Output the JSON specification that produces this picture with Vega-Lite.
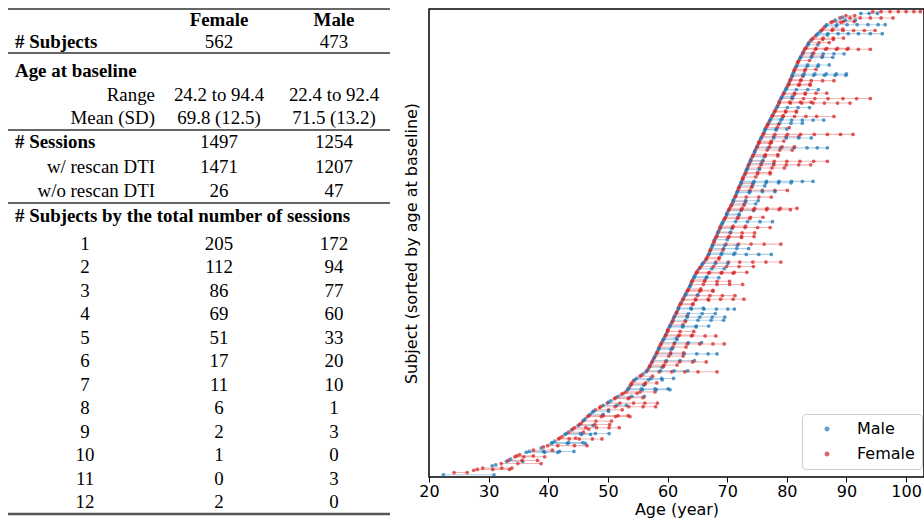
{
"$schema": "https://vega.github.io/schema/vega-lite/v6.json",
"padding": {"left": 0, "top": 8, "right": 0, "bottom": 0},
"autosize": {"type": "pad"},
"background": "white",
"spacing": 29,
"bounds": "flush",
"config": {"view": {"stroke": null}, "font": "DejaVu Sans"},
"datasets": {
"table": [
{"r":0,"c":4,"t":"Female"},{"r":0,"c":5,"t":"Male"},
{"r":1,"c":1,"t":"# Subjects"},{"r":1,"c":4,"t":"562"},{"r":1,"c":5,"t":"473"},
{"r":2,"c":1,"t":"Age at baseline"},
{"r":3,"c":3,"t":"Range"},{"r":3,"c":4,"t":"24.2 to 94.4"},{"r":3,"c":5,"t":"22.4 to 92.4"},
{"r":4,"c":3,"t":"Mean (SD)"},{"r":4,"c":4,"t":"69.8 (12.5)"},{"r":4,"c":5,"t":"71.5 (13.2)"},
{"r":5,"c":1,"t":"# Sessions"},{"r":5,"c":4,"t":"1497"},{"r":5,"c":5,"t":"1254"},
{"r":6,"c":3,"t":"w/ rescan DTI"},{"r":6,"c":4,"t":"1471"},{"r":6,"c":5,"t":"1207"},
{"r":7,"c":3,"t":"w/o rescan DTI"},{"r":7,"c":4,"t":"26"},{"r":7,"c":5,"t":"47"},
{"r":8,"c":1,"t":"# Subjects by the total number of sessions"},
{"r":9,"c":2,"t":"1"},{"r":9,"c":4,"t":"205"},{"r":9,"c":5,"t":"172"},
{"r":10,"c":2,"t":"2"},{"r":10,"c":4,"t":"112"},{"r":10,"c":5,"t":"94"},
{"r":11,"c":2,"t":"3"},{"r":11,"c":4,"t":"86"},{"r":11,"c":5,"t":"77"},
{"r":12,"c":2,"t":"4"},{"r":12,"c":4,"t":"69"},{"r":12,"c":5,"t":"60"},
{"r":13,"c":2,"t":"5"},{"r":13,"c":4,"t":"51"},{"r":13,"c":5,"t":"33"},
{"r":14,"c":2,"t":"6"},{"r":14,"c":4,"t":"17"},{"r":14,"c":5,"t":"20"},
{"r":15,"c":2,"t":"7"},{"r":15,"c":4,"t":"11"},{"r":15,"c":5,"t":"10"},
{"r":16,"c":2,"t":"8"},{"r":16,"c":4,"t":"6"},{"r":16,"c":5,"t":"1"},
{"r":17,"c":2,"t":"9"},{"r":17,"c":4,"t":"2"},{"r":17,"c":5,"t":"3"},
{"r":18,"c":2,"t":"10"},{"r":18,"c":4,"t":"1"},{"r":18,"c":5,"t":"0"},
{"r":19,"c":2,"t":"11"},{"r":19,"c":4,"t":"0"},{"r":19,"c":5,"t":"3"},
{"r":20,"c":2,"t":"12"},{"r":20,"c":4,"t":"2"},{"r":20,"c":5,"t":"0"}
],
"rules": [{"r":-0.5},{"r":1.5},{"r":4.5},{"r":7.5}],
"bottomrule": [{"r":20.5}],
"sessions": [
{"i":0,"sex":"Male","age":22.4},{"i":0,"sex":"Male","age":30.9},
{"i":5,"sex":"Female","age":24.2},{"i":5,"sex":"Female","age":26.4},
{"i":10,"sex":"Female","age":27.5},
{"i":15,"sex":"Female","age":29.0},{"i":15,"sex":"Female","age":32.2},{"i":15,"sex":"Female","age":33.9},
{"i":20,"sex":"Male","age":30.6},
{"i":25,"sex":"Female","age":32.1},{"i":25,"sex":"Female","age":34.9},{"i":25,"sex":"Female","age":38.8},
{"i":30,"sex":"Male","age":33.0},{"i":30,"sex":"Male","age":35.7},
{"i":35,"sex":"Male","age":33.7},
{"i":40,"sex":"Female","age":34.4},{"i":40,"sex":"Female","age":35.9},{"i":40,"sex":"Female","age":39.4},
{"i":45,"sex":"Female","age":35.2},
{"i":50,"sex":"Male","age":36.3},{"i":50,"sex":"Male","age":39.4},{"i":50,"sex":"Male","age":41.6},
{"i":55,"sex":"Female","age":37.5},{"i":55,"sex":"Female","age":40.7},
{"i":60,"sex":"Male","age":38.8},
{"i":65,"sex":"Female","age":39.9},{"i":65,"sex":"Female","age":41.6},{"i":65,"sex":"Female","age":44.4},{"i":65,"sex":"Female","age":46.5},
{"i":70,"sex":"Male","age":40.5},{"i":70,"sex":"Male","age":43.2},{"i":70,"sex":"Male","age":46.2},
{"i":75,"sex":"Male","age":41.1},
{"i":80,"sex":"Female","age":41.7},{"i":80,"sex":"Female","age":43.5},{"i":80,"sex":"Female","age":45.2},{"i":80,"sex":"Female","age":47.4},{"i":80,"sex":"Female","age":49.0},
{"i":85,"sex":"Female","age":42.3},
{"i":90,"sex":"Male","age":42.8},{"i":90,"sex":"Male","age":45.6},{"i":90,"sex":"Male","age":47.1},
{"i":95,"sex":"Female","age":43.4},{"i":95,"sex":"Female","age":45.9},
{"i":100,"sex":"Male","age":43.9},
{"i":105,"sex":"Female","age":44.4},{"i":105,"sex":"Female","age":46.3},{"i":105,"sex":"Female","age":48.1},{"i":105,"sex":"Female","age":50.2},{"i":105,"sex":"Female","age":51.9},
{"i":110,"sex":"Male","age":45.0},{"i":110,"sex":"Male","age":47.5},
{"i":115,"sex":"Female","age":45.5},
{"i":120,"sex":"Female","age":45.8},{"i":120,"sex":"Female","age":48.0},{"i":120,"sex":"Female","age":50.6},
{"i":125,"sex":"Male","age":46.2},
{"i":130,"sex":"Female","age":46.6},{"i":130,"sex":"Female","age":48.9},{"i":130,"sex":"Female","age":51.3},{"i":130,"sex":"Female","age":53.7},
{"i":135,"sex":"Male","age":47.0},{"i":135,"sex":"Male","age":49.2},
{"i":140,"sex":"Male","age":47.4},
{"i":145,"sex":"Female","age":47.9},{"i":145,"sex":"Female","age":50.1},{"i":145,"sex":"Female","age":52.4},
{"i":150,"sex":"Female","age":48.6},
{"i":155,"sex":"Male","age":49.2},{"i":155,"sex":"Male","age":51.5},{"i":155,"sex":"Male","age":53.1},
{"i":160,"sex":"Female","age":49.9},{"i":160,"sex":"Female","age":52.0},{"i":160,"sex":"Female","age":54.3},{"i":160,"sex":"Female","age":56.2},{"i":160,"sex":"Female","age":58.3},
{"i":165,"sex":"Male","age":50.5},
{"i":170,"sex":"Female","age":51.1},{"i":170,"sex":"Female","age":53.4},
{"i":175,"sex":"Male","age":51.7},{"i":175,"sex":"Male","age":54.0},{"i":175,"sex":"Male","age":56.1},
{"i":180,"sex":"Female","age":52.3},
{"i":185,"sex":"Female","age":53.0},{"i":185,"sex":"Female","age":55.4},{"i":185,"sex":"Female","age":57.9},
{"i":190,"sex":"Male","age":53.3},{"i":190,"sex":"Male","age":55.8},{"i":190,"sex":"Male","age":58.1},{"i":190,"sex":"Male","age":60.4},
{"i":195,"sex":"Female","age":53.6},
{"i":200,"sex":"Male","age":53.8},{"i":200,"sex":"Male","age":56.0},
{"i":205,"sex":"Female","age":54.0},{"i":205,"sex":"Female","age":56.3},{"i":205,"sex":"Female","age":58.2},
{"i":210,"sex":"Female","age":54.3},
{"i":215,"sex":"Male","age":54.8},{"i":215,"sex":"Male","age":57.2},{"i":215,"sex":"Male","age":59.0},{"i":215,"sex":"Male","age":61.0},
{"i":220,"sex":"Female","age":55.4},{"i":220,"sex":"Female","age":57.5},
{"i":225,"sex":"Male","age":55.9},
{"i":230,"sex":"Female","age":56.4},{"i":230,"sex":"Female","age":58.6},{"i":230,"sex":"Female","age":60.7},{"i":230,"sex":"Female","age":62.9},{"i":230,"sex":"Female","age":65.1},{"i":230,"sex":"Female","age":68.3},
{"i":235,"sex":"Female","age":56.7},
{"i":240,"sex":"Male","age":56.9},{"i":240,"sex":"Male","age":59.1},
{"i":245,"sex":"Female","age":57.1},{"i":245,"sex":"Female","age":59.4},{"i":245,"sex":"Female","age":61.6},
{"i":250,"sex":"Male","age":57.3},
{"i":255,"sex":"Male","age":57.5},{"i":255,"sex":"Male","age":59.8},{"i":255,"sex":"Male","age":62.1},{"i":255,"sex":"Male","age":64.5},
{"i":260,"sex":"Female","age":57.7},
{"i":265,"sex":"Female","age":57.9},{"i":265,"sex":"Female","age":60.2},{"i":265,"sex":"Female","age":62.6},
{"i":270,"sex":"Male","age":58.1},{"i":270,"sex":"Male","age":60.5},{"i":270,"sex":"Male","age":62.8},{"i":270,"sex":"Male","age":64.9},{"i":270,"sex":"Male","age":66.8},{"i":270,"sex":"Male","age":68.3},
{"i":275,"sex":"Female","age":58.3},
{"i":280,"sex":"Male","age":58.5},{"i":280,"sex":"Male","age":60.6},
{"i":285,"sex":"Female","age":58.6},{"i":285,"sex":"Female","age":60.9},{"i":285,"sex":"Female","age":63.1},
{"i":290,"sex":"Female","age":58.8},
{"i":295,"sex":"Male","age":59.0},{"i":295,"sex":"Male","age":61.2},{"i":295,"sex":"Male","age":63.5},{"i":295,"sex":"Male","age":65.7},
{"i":300,"sex":"Female","age":59.2},
{"i":305,"sex":"Male","age":59.4},{"i":305,"sex":"Male","age":61.5},
{"i":310,"sex":"Female","age":59.6},{"i":310,"sex":"Female","age":61.8},{"i":310,"sex":"Female","age":64.0},{"i":310,"sex":"Female","age":66.3},{"i":310,"sex":"Female","age":68.1},
{"i":315,"sex":"Male","age":59.8},
{"i":320,"sex":"Female","age":60.0},{"i":320,"sex":"Female","age":62.1},{"i":320,"sex":"Female","age":64.4},
{"i":325,"sex":"Female","age":60.1},
{"i":330,"sex":"Male","age":60.3},{"i":330,"sex":"Male","age":62.5},{"i":330,"sex":"Male","age":64.8},
{"i":335,"sex":"Female","age":60.5},{"i":335,"sex":"Female","age":62.6},
{"i":340,"sex":"Male","age":60.7},
{"i":345,"sex":"Male","age":60.9},{"i":345,"sex":"Male","age":63.0},{"i":345,"sex":"Male","age":65.1},{"i":345,"sex":"Male","age":67.3},{"i":345,"sex":"Male","age":69.4},
{"i":350,"sex":"Female","age":61.0},
{"i":355,"sex":"Female","age":61.2},{"i":355,"sex":"Female","age":63.3},
{"i":360,"sex":"Male","age":61.4},{"i":360,"sex":"Male","age":63.5},{"i":360,"sex":"Male","age":65.8},{"i":360,"sex":"Male","age":68.0},
{"i":365,"sex":"Female","age":61.6},
{"i":370,"sex":"Male","age":61.8},{"i":370,"sex":"Male","age":64.0},{"i":370,"sex":"Male","age":66.1},{"i":370,"sex":"Male","age":68.2},{"i":370,"sex":"Male","age":70.1},{"i":370,"sex":"Male","age":71.2},
{"i":375,"sex":"Female","age":61.9},
{"i":380,"sex":"Female","age":62.1},{"i":380,"sex":"Female","age":64.2},
{"i":385,"sex":"Male","age":62.3},
{"i":390,"sex":"Female","age":62.5},{"i":390,"sex":"Female","age":64.7},{"i":390,"sex":"Female","age":66.9},
{"i":395,"sex":"Male","age":62.7},
{"i":400,"sex":"Female","age":62.9},{"i":400,"sex":"Female","age":65.0},{"i":400,"sex":"Female","age":67.1},{"i":400,"sex":"Female","age":69.2},{"i":400,"sex":"Female","age":71.3},
{"i":405,"sex":"Male","age":63.1},
{"i":410,"sex":"Female","age":63.3},{"i":410,"sex":"Female","age":65.4},{"i":410,"sex":"Female","age":67.6},
{"i":415,"sex":"Female","age":63.5},{"i":415,"sex":"Female","age":65.6},
{"i":420,"sex":"Male","age":63.7},
{"i":425,"sex":"Female","age":63.9},{"i":425,"sex":"Female","age":66.0},{"i":425,"sex":"Female","age":68.3},{"i":425,"sex":"Female","age":70.4},{"i":425,"sex":"Female","age":72.6},
{"i":430,"sex":"Male","age":64.0},
{"i":435,"sex":"Female","age":64.2},{"i":435,"sex":"Female","age":66.3},
{"i":440,"sex":"Male","age":64.4},{"i":440,"sex":"Male","age":66.5},{"i":440,"sex":"Male","age":68.6},
{"i":445,"sex":"Male","age":64.6},
{"i":450,"sex":"Female","age":64.8},{"i":450,"sex":"Female","age":66.9},{"i":450,"sex":"Female","age":69.0},{"i":450,"sex":"Female","age":71.0},
{"i":455,"sex":"Female","age":65.0},
{"i":460,"sex":"Male","age":65.3},{"i":460,"sex":"Male","age":67.4},{"i":460,"sex":"Male","age":69.5},
{"i":465,"sex":"Female","age":65.6},{"i":465,"sex":"Female","age":67.7},{"i":465,"sex":"Female","age":69.9},{"i":465,"sex":"Female","age":72.0},{"i":465,"sex":"Female","age":74.4},
{"i":470,"sex":"Male","age":65.8},
{"i":475,"sex":"Female","age":66.1},{"i":475,"sex":"Female","age":68.1},{"i":475,"sex":"Female","age":70.2},{"i":475,"sex":"Female","age":72.1},{"i":475,"sex":"Female","age":74.3},{"i":475,"sex":"Female","age":76.5},{"i":475,"sex":"Female","age":79.0},
{"i":480,"sex":"Male","age":66.4},
{"i":485,"sex":"Female","age":66.6},{"i":485,"sex":"Female","age":68.7},
{"i":490,"sex":"Female","age":66.8},
{"i":495,"sex":"Male","age":67.0},{"i":495,"sex":"Male","age":69.1},{"i":495,"sex":"Male","age":71.3},
{"i":500,"sex":"Female","age":67.1},
{"i":505,"sex":"Male","age":67.3},{"i":505,"sex":"Male","age":69.4},{"i":505,"sex":"Male","age":71.6},{"i":505,"sex":"Male","age":73.6},
{"i":510,"sex":"Male","age":67.5},
{"i":515,"sex":"Female","age":67.6},{"i":515,"sex":"Female","age":69.8},{"i":515,"sex":"Female","age":71.9},{"i":515,"sex":"Female","age":74.0},{"i":515,"sex":"Female","age":76.2},{"i":515,"sex":"Female","age":79.0},
{"i":520,"sex":"Female","age":67.8},
{"i":525,"sex":"Male","age":67.9},{"i":525,"sex":"Male","age":70.0},
{"i":530,"sex":"Female","age":68.1},{"i":530,"sex":"Female","age":70.2},{"i":530,"sex":"Female","age":72.4},
{"i":535,"sex":"Male","age":68.3},
{"i":540,"sex":"Female","age":68.4},{"i":540,"sex":"Female","age":70.5},{"i":540,"sex":"Female","age":72.5},{"i":540,"sex":"Female","age":74.6},
{"i":545,"sex":"Female","age":68.6},
{"i":550,"sex":"Male","age":68.8},{"i":550,"sex":"Male","age":70.8},
{"i":555,"sex":"Female","age":68.9},{"i":555,"sex":"Female","age":71.0},{"i":555,"sex":"Female","age":73.1},
{"i":560,"sex":"Male","age":69.1},
{"i":565,"sex":"Male","age":69.3},{"i":565,"sex":"Male","age":71.4},{"i":565,"sex":"Male","age":73.4},{"i":565,"sex":"Male","age":75.5},{"i":565,"sex":"Male","age":77.6},
{"i":570,"sex":"Female","age":69.5},
{"i":575,"sex":"Female","age":69.7},{"i":575,"sex":"Female","age":71.8},{"i":575,"sex":"Female","age":73.9},{"i":575,"sex":"Female","age":76.0},
{"i":580,"sex":"Male","age":69.9},{"i":580,"sex":"Male","age":72.0},
{"i":585,"sex":"Female","age":70.0},
{"i":590,"sex":"Male","age":70.2},{"i":590,"sex":"Male","age":72.3},{"i":590,"sex":"Male","age":74.4},
{"i":595,"sex":"Female","age":70.4},{"i":595,"sex":"Female","age":72.5},{"i":595,"sex":"Female","age":74.6},{"i":595,"sex":"Female","age":76.7},{"i":595,"sex":"Female","age":78.9},{"i":595,"sex":"Female","age":81.7},
{"i":600,"sex":"Female","age":70.6},
{"i":605,"sex":"Male","age":70.8},{"i":605,"sex":"Male","age":72.9},{"i":605,"sex":"Male","age":74.8},
{"i":610,"sex":"Female","age":71.0},{"i":610,"sex":"Female","age":73.1},
{"i":615,"sex":"Male","age":71.1},
{"i":620,"sex":"Female","age":71.3},{"i":620,"sex":"Female","age":73.2},{"i":620,"sex":"Female","age":75.3},{"i":620,"sex":"Female","age":77.4},
{"i":625,"sex":"Male","age":71.5},
{"i":630,"sex":"Male","age":71.6},{"i":630,"sex":"Male","age":73.7},
{"i":635,"sex":"Female","age":71.8},{"i":635,"sex":"Female","age":73.8},{"i":635,"sex":"Female","age":75.9},{"i":635,"sex":"Female","age":78.0},{"i":635,"sex":"Female","age":80.1},
{"i":640,"sex":"Female","age":71.9},
{"i":645,"sex":"Male","age":72.1},{"i":645,"sex":"Male","age":74.2},{"i":645,"sex":"Male","age":76.3},
{"i":650,"sex":"Female","age":72.3},{"i":650,"sex":"Female","age":74.3},
{"i":655,"sex":"Male","age":72.4},{"i":655,"sex":"Male","age":74.5},{"i":655,"sex":"Male","age":76.6},{"i":655,"sex":"Male","age":78.7},{"i":655,"sex":"Male","age":80.8},{"i":655,"sex":"Male","age":82.6},{"i":655,"sex":"Male","age":84.4},
{"i":660,"sex":"Female","age":72.6},
{"i":665,"sex":"Female","age":72.7},{"i":665,"sex":"Female","age":74.8},
{"i":670,"sex":"Male","age":72.9},
{"i":675,"sex":"Female","age":73.1},{"i":675,"sex":"Female","age":75.1},{"i":675,"sex":"Female","age":77.2},
{"i":680,"sex":"Male","age":73.2},
{"i":685,"sex":"Female","age":73.4},{"i":685,"sex":"Female","age":75.4},{"i":685,"sex":"Female","age":77.5},{"i":685,"sex":"Female","age":79.6},
{"i":690,"sex":"Male","age":73.5},
{"i":695,"sex":"Male","age":73.7},{"i":695,"sex":"Male","age":75.7},{"i":695,"sex":"Male","age":77.8},
{"i":700,"sex":"Female","age":73.9},{"i":700,"sex":"Female","age":75.9},{"i":700,"sex":"Female","age":77.9},{"i":700,"sex":"Female","age":80.0},{"i":700,"sex":"Female","age":82.2},{"i":700,"sex":"Female","age":84.5},{"i":700,"sex":"Female","age":86.8},
{"i":705,"sex":"Female","age":74.0},
{"i":710,"sex":"Male","age":74.2},{"i":710,"sex":"Male","age":76.2},
{"i":715,"sex":"Female","age":74.4},{"i":715,"sex":"Female","age":76.4},{"i":715,"sex":"Female","age":78.5},
{"i":720,"sex":"Male","age":74.6},
{"i":725,"sex":"Female","age":74.7},{"i":725,"sex":"Female","age":76.7},{"i":725,"sex":"Female","age":78.8},{"i":725,"sex":"Female","age":80.9},
{"i":730,"sex":"Male","age":74.9},{"i":730,"sex":"Male","age":76.9},{"i":730,"sex":"Male","age":79.0},{"i":730,"sex":"Male","age":81.2},{"i":730,"sex":"Male","age":83.4},{"i":730,"sex":"Male","age":85.1},{"i":730,"sex":"Male","age":86.8},
{"i":735,"sex":"Male","age":75.1},
{"i":740,"sex":"Female","age":75.3},{"i":740,"sex":"Female","age":77.2},
{"i":745,"sex":"Female","age":75.4},{"i":745,"sex":"Female","age":77.4},{"i":745,"sex":"Female","age":79.5},
{"i":750,"sex":"Male","age":75.6},
{"i":755,"sex":"Female","age":75.8},{"i":755,"sex":"Female","age":77.8},{"i":755,"sex":"Female","age":79.9},{"i":755,"sex":"Female","age":82.0},
{"i":760,"sex":"Female","age":76.0},{"i":760,"sex":"Female","age":78.0},{"i":760,"sex":"Female","age":80.1},{"i":760,"sex":"Female","age":82.3},{"i":760,"sex":"Female","age":84.6},{"i":760,"sex":"Female","age":86.8},{"i":760,"sex":"Female","age":89.0},{"i":760,"sex":"Female","age":91.1},
{"i":765,"sex":"Male","age":76.2},
{"i":770,"sex":"Male","age":76.3},{"i":770,"sex":"Male","age":78.2},
{"i":775,"sex":"Female","age":76.5},{"i":775,"sex":"Female","age":78.4},{"i":775,"sex":"Female","age":80.4},
{"i":780,"sex":"Female","age":76.7},
{"i":785,"sex":"Male","age":76.9},{"i":785,"sex":"Male","age":78.8},{"i":785,"sex":"Male","age":80.7},{"i":785,"sex":"Male","age":82.6},
{"i":790,"sex":"Female","age":77.1},
{"i":795,"sex":"Male","age":77.3},{"i":795,"sex":"Male","age":79.2},
{"i":800,"sex":"Female","age":77.5},{"i":800,"sex":"Female","age":79.4},{"i":800,"sex":"Female","age":81.3},{"i":800,"sex":"Female","age":83.2},{"i":800,"sex":"Female","age":85.0},{"i":800,"sex":"Female","age":87.9},
{"i":805,"sex":"Male","age":77.7},
{"i":810,"sex":"Female","age":77.9},{"i":810,"sex":"Female","age":79.8},{"i":810,"sex":"Female","age":81.6},
{"i":815,"sex":"Female","age":78.1},
{"i":820,"sex":"Male","age":78.3},{"i":820,"sex":"Male","age":80.1},{"i":820,"sex":"Male","age":81.9},{"i":820,"sex":"Male","age":83.8},
{"i":825,"sex":"Female","age":78.5},
{"i":830,"sex":"Female","age":78.7},{"i":830,"sex":"Female","age":80.6},{"i":830,"sex":"Female","age":82.5},{"i":830,"sex":"Female","age":84.4},{"i":830,"sex":"Female","age":86.3},{"i":830,"sex":"Female","age":88.5},{"i":830,"sex":"Female","age":90.6},
{"i":835,"sex":"Male","age":78.8},
{"i":840,"sex":"Female","age":79.0},{"i":840,"sex":"Female","age":80.9},{"i":840,"sex":"Female","age":82.8},{"i":840,"sex":"Female","age":84.7},{"i":840,"sex":"Female","age":86.9},{"i":840,"sex":"Female","age":89.4},{"i":840,"sex":"Female","age":91.7},{"i":840,"sex":"Female","age":94.0},
{"i":845,"sex":"Male","age":79.2},{"i":845,"sex":"Male","age":81.0},
{"i":850,"sex":"Female","age":79.4},{"i":850,"sex":"Female","age":81.3},{"i":850,"sex":"Female","age":83.1},
{"i":855,"sex":"Male","age":79.6},
{"i":860,"sex":"Male","age":79.8},{"i":860,"sex":"Male","age":81.6},{"i":860,"sex":"Male","age":83.5},{"i":860,"sex":"Male","age":85.3},
{"i":865,"sex":"Female","age":80.0},
{"i":870,"sex":"Female","age":80.2},{"i":870,"sex":"Female","age":82.0},{"i":870,"sex":"Female","age":83.9},
{"i":875,"sex":"Male","age":80.4},
{"i":880,"sex":"Female","age":80.5},{"i":880,"sex":"Female","age":82.3},{"i":880,"sex":"Female","age":84.1},{"i":880,"sex":"Female","age":86.0},{"i":880,"sex":"Female","age":87.9},
{"i":885,"sex":"Male","age":80.7},
{"i":890,"sex":"Female","age":80.9},{"i":890,"sex":"Female","age":82.7},
{"i":895,"sex":"Male","age":81.0},{"i":895,"sex":"Male","age":82.9},{"i":895,"sex":"Male","age":84.7},{"i":895,"sex":"Male","age":86.6},{"i":895,"sex":"Male","age":88.3},{"i":895,"sex":"Male","age":90.0},
{"i":900,"sex":"Male","age":81.2},
{"i":905,"sex":"Female","age":81.3},{"i":905,"sex":"Female","age":83.1},{"i":905,"sex":"Female","age":84.9},
{"i":910,"sex":"Female","age":81.5},
{"i":915,"sex":"Male","age":81.7},{"i":915,"sex":"Male","age":83.5},{"i":915,"sex":"Male","age":85.3},{"i":915,"sex":"Male","age":87.1},
{"i":920,"sex":"Female","age":81.8},
{"i":925,"sex":"Female","age":82.0},{"i":925,"sex":"Female","age":83.8},
{"i":930,"sex":"Male","age":82.2},
{"i":935,"sex":"Female","age":82.4},{"i":935,"sex":"Female","age":84.2},{"i":935,"sex":"Female","age":86.0},
{"i":940,"sex":"Male","age":82.6},{"i":940,"sex":"Male","age":84.3},{"i":940,"sex":"Male","age":86.1},{"i":940,"sex":"Male","age":87.9},{"i":940,"sex":"Male","age":89.6},
{"i":945,"sex":"Male","age":82.8},
{"i":950,"sex":"Female","age":83.0},{"i":950,"sex":"Female","age":84.8},{"i":950,"sex":"Female","age":86.5},{"i":950,"sex":"Female","age":88.3},{"i":950,"sex":"Female","age":90.1},{"i":950,"sex":"Female","age":92.0},{"i":950,"sex":"Female","age":94.0},
{"i":955,"sex":"Female","age":83.3},
{"i":960,"sex":"Male","age":83.5},{"i":960,"sex":"Male","age":85.2},
{"i":965,"sex":"Female","age":83.7},{"i":965,"sex":"Female","age":85.4},{"i":965,"sex":"Female","age":87.1},
{"i":970,"sex":"Male","age":84.0},
{"i":975,"sex":"Female","age":84.4},{"i":975,"sex":"Female","age":86.1},{"i":975,"sex":"Female","age":87.8},{"i":975,"sex":"Female","age":89.5},
{"i":980,"sex":"Female","age":84.8},
{"i":985,"sex":"Male","age":85.2},{"i":985,"sex":"Male","age":86.9},{"i":985,"sex":"Male","age":88.6},{"i":985,"sex":"Male","age":90.3},{"i":985,"sex":"Male","age":92.0},{"i":985,"sex":"Male","age":94.0},{"i":985,"sex":"Male","age":96.0},
{"i":990,"sex":"Male","age":85.6},
{"i":995,"sex":"Female","age":86.0},{"i":995,"sex":"Female","age":87.7},{"i":995,"sex":"Female","age":89.4},
{"i":1000,"sex":"Female","age":86.3},
{"i":1005,"sex":"Male","age":86.7},{"i":1005,"sex":"Male","age":88.4},{"i":1005,"sex":"Male","age":90.1},{"i":1005,"sex":"Male","age":91.8},{"i":1005,"sex":"Male","age":93.6},{"i":1005,"sex":"Male","age":95.3},{"i":1005,"sex":"Male","age":96.5},
{"i":1010,"sex":"Female","age":87.4},{"i":1010,"sex":"Female","age":89.1},
{"i":1015,"sex":"Male","age":88.1},{"i":1015,"sex":"Male","age":89.8},{"i":1015,"sex":"Male","age":91.5},
{"i":1020,"sex":"Female","age":88.9},{"i":1020,"sex":"Female","age":90.6},{"i":1020,"sex":"Female","age":92.3},{"i":1020,"sex":"Female","age":94.0},{"i":1020,"sex":"Female","age":95.8},{"i":1020,"sex":"Female","age":97.8},
{"i":1025,"sex":"Female","age":89.9},{"i":1025,"sex":"Female","age":91.4},
{"i":1030,"sex":"Male","age":92.4},{"i":1030,"sex":"Male","age":93.8},{"i":1030,"sex":"Male","age":95.2},
{"i":1034,"sex":"Female","age":94.4},{"i":1034,"sex":"Female","age":95.8},{"i":1034,"sex":"Female","age":97.3},{"i":1034,"sex":"Female","age":98.7},{"i":1034,"sex":"Female","age":100.0},{"i":1034,"sex":"Female","age":101.3},{"i":1034,"sex":"Female","age":102.4},
{"i":12,"sex":"Female","age":28.1},{"i":12,"sex":"Female","age":30.7},{"i":12,"sex":"Female","age":33.5},
{"i":22,"sex":"Male","age":31.2},
{"i":32,"sex":"Female","age":33.3},{"i":32,"sex":"Female","age":35.6},{"i":32,"sex":"Female","age":38.2},
{"i":42,"sex":"Female","age":34.7},{"i":42,"sex":"Female","age":37.5},
{"i":52,"sex":"Male","age":36.8},{"i":52,"sex":"Male","age":39.2},{"i":52,"sex":"Male","age":41.9},{"i":52,"sex":"Male","age":44.3},
{"i":62,"sex":"Female","age":39.2},
{"i":72,"sex":"Male","age":40.7},{"i":72,"sex":"Male","age":43.4},{"i":72,"sex":"Male","age":45.8},
{"i":82,"sex":"Female","age":41.9},{"i":82,"sex":"Female","age":44.6},
{"i":92,"sex":"Male","age":43.0},{"i":92,"sex":"Male","age":45.4},{"i":92,"sex":"Male","age":47.9},{"i":92,"sex":"Male","age":50.2},
{"i":102,"sex":"Female","age":44.1},{"i":102,"sex":"Female","age":46.8},
{"i":112,"sex":"Female","age":45.2},{"i":112,"sex":"Female","age":47.8},{"i":112,"sex":"Female","age":50.3},
{"i":122,"sex":"Male","age":46.0},
{"i":132,"sex":"Female","age":46.8},{"i":132,"sex":"Female","age":49.2},{"i":132,"sex":"Female","age":51.7},{"i":132,"sex":"Female","age":53.4},
{"i":142,"sex":"Male","age":47.6},{"i":142,"sex":"Male","age":50.1},
{"i":152,"sex":"Female","age":48.8},{"i":152,"sex":"Female","age":51.2},{"i":152,"sex":"Female","age":53.5},{"i":152,"sex":"Female","age":55.9},{"i":152,"sex":"Female","age":58.0},
{"i":162,"sex":"Male","age":50.1},
{"i":172,"sex":"Female","age":51.3},{"i":172,"sex":"Female","age":53.6},{"i":172,"sex":"Female","age":55.9},
{"i":182,"sex":"Female","age":52.6},{"i":182,"sex":"Female","age":54.9},
{"i":192,"sex":"Male","age":53.4},{"i":192,"sex":"Male","age":55.6},{"i":192,"sex":"Male","age":57.9},{"i":192,"sex":"Male","age":60.1},
{"i":202,"sex":"Female","age":53.9},{"i":202,"sex":"Female","age":56.2},
{"i":212,"sex":"Male","age":54.5},{"i":212,"sex":"Male","age":56.8},{"i":212,"sex":"Male","age":59.1},
{"i":222,"sex":"Female","age":55.6},
{"i":232,"sex":"Male","age":56.5},{"i":232,"sex":"Male","age":58.8},{"i":232,"sex":"Male","age":61.1},{"i":232,"sex":"Male","age":63.4},
{"i":242,"sex":"Female","age":57.0},{"i":242,"sex":"Female","age":59.3},
{"i":252,"sex":"Female","age":57.4},{"i":252,"sex":"Female","age":59.7},{"i":252,"sex":"Female","age":62.0},{"i":252,"sex":"Female","age":64.2},{"i":252,"sex":"Female","age":66.5},
{"i":262,"sex":"Male","age":57.8},
{"i":272,"sex":"Female","age":58.2},{"i":272,"sex":"Female","age":60.5},{"i":272,"sex":"Female","age":62.7},
{"i":282,"sex":"Male","age":58.5},{"i":282,"sex":"Male","age":60.8},
{"i":292,"sex":"Female","age":58.9},{"i":292,"sex":"Female","age":61.1},{"i":292,"sex":"Female","age":63.3},{"i":292,"sex":"Female","age":65.4},{"i":292,"sex":"Female","age":67.6},{"i":292,"sex":"Female","age":69.5},
{"i":302,"sex":"Male","age":59.3},{"i":302,"sex":"Male","age":61.6},
{"i":312,"sex":"Female","age":59.7},{"i":312,"sex":"Female","age":62.0},{"i":312,"sex":"Female","age":64.2},
{"i":322,"sex":"Female","age":60.0},
{"i":332,"sex":"Male","age":60.4},{"i":332,"sex":"Male","age":62.6},{"i":332,"sex":"Male","age":64.8},{"i":332,"sex":"Male","age":66.9},
{"i":342,"sex":"Female","age":60.8},{"i":342,"sex":"Female","age":63.0},
{"i":352,"sex":"Male","age":61.1},{"i":352,"sex":"Male","age":63.3},{"i":352,"sex":"Male","age":65.4},{"i":352,"sex":"Male","age":67.5},{"i":352,"sex":"Male","age":69.6},
{"i":362,"sex":"Female","age":61.5},
{"i":372,"sex":"Male","age":61.8},{"i":372,"sex":"Male","age":63.9},{"i":372,"sex":"Male","age":66.0},
{"i":382,"sex":"Female","age":62.2},{"i":382,"sex":"Female","age":64.3},
{"i":392,"sex":"Female","age":62.6},{"i":392,"sex":"Female","age":64.7},{"i":392,"sex":"Female","age":66.8},{"i":392,"sex":"Female","age":68.9},{"i":392,"sex":"Female","age":71.0},{"i":392,"sex":"Female","age":72.8},
{"i":402,"sex":"Male","age":63.0},{"i":402,"sex":"Male","age":65.1},
{"i":412,"sex":"Female","age":63.4},{"i":412,"sex":"Female","age":65.5},{"i":412,"sex":"Female","age":67.6},
{"i":422,"sex":"Male","age":63.8},
{"i":432,"sex":"Female","age":64.1},{"i":432,"sex":"Female","age":66.2},{"i":432,"sex":"Female","age":68.3},{"i":432,"sex":"Female","age":70.4},
{"i":442,"sex":"Male","age":64.5},{"i":442,"sex":"Male","age":66.6},
{"i":452,"sex":"Female","age":64.9},{"i":452,"sex":"Female","age":67.0},{"i":452,"sex":"Female","age":69.1},{"i":452,"sex":"Female","age":71.2},{"i":452,"sex":"Female","age":73.3},
{"i":462,"sex":"Female","age":65.4},
{"i":472,"sex":"Male","age":65.9},{"i":472,"sex":"Male","age":68.0},{"i":472,"sex":"Male","age":70.1},
{"i":482,"sex":"Female","age":66.5},{"i":482,"sex":"Female","age":68.6},
{"i":492,"sex":"Male","age":66.9},{"i":492,"sex":"Male","age":69.0},{"i":492,"sex":"Male","age":71.1},{"i":492,"sex":"Male","age":73.2},{"i":492,"sex":"Male","age":75.3},{"i":492,"sex":"Male","age":77.4},
{"i":502,"sex":"Female","age":67.2},{"i":502,"sex":"Female","age":69.3},
{"i":512,"sex":"Male","age":67.5},{"i":512,"sex":"Male","age":69.6},{"i":512,"sex":"Male","age":71.7},
{"i":522,"sex":"Female","age":67.8},
{"i":532,"sex":"Female","age":68.2},{"i":532,"sex":"Female","age":70.3},{"i":532,"sex":"Female","age":72.4},{"i":532,"sex":"Female","age":74.5},
{"i":542,"sex":"Male","age":68.5},{"i":542,"sex":"Male","age":70.6},
{"i":552,"sex":"Female","age":68.8},{"i":552,"sex":"Female","age":70.9},{"i":552,"sex":"Female","age":73.0},{"i":552,"sex":"Female","age":75.1},{"i":552,"sex":"Female","age":77.2},
{"i":562,"sex":"Male","age":69.2},
{"i":572,"sex":"Female","age":69.6},{"i":572,"sex":"Female","age":71.7},{"i":572,"sex":"Female","age":73.8},
{"i":582,"sex":"Male","age":69.9},{"i":582,"sex":"Male","age":72.0},
{"i":592,"sex":"Female","age":70.3},{"i":592,"sex":"Female","age":72.4},{"i":592,"sex":"Female","age":74.5},{"i":592,"sex":"Female","age":76.6},{"i":592,"sex":"Female","age":78.7},{"i":592,"sex":"Female","age":80.6},
{"i":602,"sex":"Female","age":70.7},{"i":602,"sex":"Female","age":72.8},
{"i":612,"sex":"Male","age":71.0},{"i":612,"sex":"Male","age":73.1},{"i":612,"sex":"Male","age":75.2},
{"i":622,"sex":"Female","age":71.4},
{"i":632,"sex":"Male","age":71.7},{"i":632,"sex":"Male","age":73.8},{"i":632,"sex":"Male","age":75.9},{"i":632,"sex":"Male","age":78.0},
{"i":642,"sex":"Female","age":72.0},{"i":642,"sex":"Female","age":74.1},
{"i":652,"sex":"Male","age":72.3},{"i":652,"sex":"Male","age":74.4},{"i":652,"sex":"Male","age":76.5},{"i":652,"sex":"Male","age":78.6},{"i":652,"sex":"Male","age":80.7},
{"i":662,"sex":"Female","age":72.6},
{"i":672,"sex":"Female","age":73.0},{"i":672,"sex":"Female","age":75.1},{"i":672,"sex":"Female","age":77.2},
{"i":682,"sex":"Male","age":73.3},{"i":682,"sex":"Male","age":75.4},
{"i":692,"sex":"Female","age":73.6},{"i":692,"sex":"Female","age":75.7},{"i":692,"sex":"Female","age":77.8},{"i":692,"sex":"Female","age":79.9},{"i":692,"sex":"Female","age":82.0},{"i":692,"sex":"Female","age":84.0},
{"i":702,"sex":"Male","age":73.9},{"i":702,"sex":"Male","age":76.0},
{"i":712,"sex":"Female","age":74.3},{"i":712,"sex":"Female","age":76.4},{"i":712,"sex":"Female","age":78.5},
{"i":722,"sex":"Male","age":74.6},
{"i":732,"sex":"Female","age":75.0},{"i":732,"sex":"Female","age":77.1},{"i":732,"sex":"Female","age":79.2},{"i":732,"sex":"Female","age":81.3},
{"i":742,"sex":"Female","age":75.3},{"i":742,"sex":"Female","age":77.4},
{"i":752,"sex":"Male","age":75.7},{"i":752,"sex":"Male","age":77.8},{"i":752,"sex":"Male","age":79.9},{"i":752,"sex":"Male","age":82.0},{"i":752,"sex":"Male","age":84.1},
{"i":762,"sex":"Female","age":76.1},
{"i":772,"sex":"Male","age":76.4},{"i":772,"sex":"Male","age":78.2},{"i":772,"sex":"Male","age":80.0},
{"i":782,"sex":"Female","age":76.8},{"i":782,"sex":"Female","age":78.6},
{"i":792,"sex":"Male","age":77.2},{"i":792,"sex":"Male","age":79.0},{"i":792,"sex":"Male","age":80.8},{"i":792,"sex":"Male","age":82.6},{"i":792,"sex":"Male","age":84.4},{"i":792,"sex":"Male","age":86.2},
{"i":802,"sex":"Female","age":77.6},{"i":802,"sex":"Female","age":79.4},
{"i":812,"sex":"Female","age":78.0},{"i":812,"sex":"Female","age":79.8},{"i":812,"sex":"Female","age":81.6},
{"i":822,"sex":"Male","age":78.4},
{"i":832,"sex":"Female","age":78.7},{"i":832,"sex":"Female","age":80.5},{"i":832,"sex":"Female","age":82.3},{"i":832,"sex":"Female","age":84.1},
{"i":842,"sex":"Male","age":79.1},{"i":842,"sex":"Male","age":80.9},
{"i":852,"sex":"Female","age":79.5},{"i":852,"sex":"Female","age":81.3},{"i":852,"sex":"Female","age":83.1},{"i":852,"sex":"Female","age":84.9},{"i":852,"sex":"Female","age":86.7},
{"i":862,"sex":"Male","age":79.9},
{"i":872,"sex":"Female","age":80.3},{"i":872,"sex":"Female","age":82.1},{"i":872,"sex":"Female","age":83.9},
{"i":882,"sex":"Female","age":80.6},{"i":882,"sex":"Female","age":82.4},
{"i":892,"sex":"Male","age":80.9},{"i":892,"sex":"Male","age":82.7},{"i":892,"sex":"Male","age":84.5},{"i":892,"sex":"Male","age":86.3},{"i":892,"sex":"Male","age":88.1},{"i":892,"sex":"Male","age":89.9},
{"i":902,"sex":"Female","age":81.2},{"i":902,"sex":"Female","age":83.0},
{"i":912,"sex":"Male","age":81.6},{"i":912,"sex":"Male","age":83.4},{"i":912,"sex":"Male","age":85.2},
{"i":922,"sex":"Female","age":81.9},
{"i":932,"sex":"Male","age":82.3},{"i":932,"sex":"Male","age":84.1},{"i":932,"sex":"Male","age":85.9},{"i":932,"sex":"Male","age":87.7},
{"i":942,"sex":"Female","age":82.7},{"i":942,"sex":"Female","age":84.5},
{"i":952,"sex":"Female","age":83.1},{"i":952,"sex":"Female","age":84.9},{"i":952,"sex":"Female","age":86.7},{"i":952,"sex":"Female","age":88.5},{"i":952,"sex":"Female","age":90.3},
{"i":962,"sex":"Male","age":83.6},
{"i":972,"sex":"Female","age":84.2},{"i":972,"sex":"Female","age":86.0},{"i":972,"sex":"Female","age":87.8},
{"i":982,"sex":"Male","age":85.0},{"i":982,"sex":"Male","age":86.8},
{"i":992,"sex":"Female","age":85.8},{"i":992,"sex":"Female","age":87.6},{"i":992,"sex":"Female","age":89.4},{"i":992,"sex":"Female","age":91.2},{"i":992,"sex":"Female","age":93.0},{"i":992,"sex":"Female","age":94.8},
{"i":1002,"sex":"Male","age":86.5},{"i":1002,"sex":"Male","age":88.3},
{"i":1012,"sex":"Female","age":87.7},{"i":1012,"sex":"Female","age":89.5},{"i":1012,"sex":"Female","age":91.3},
{"i":1022,"sex":"Male","age":89.3}
]
},
"hconcat": [
{
"width": 400,
"height": 505,
"view": {"stroke": null},
"layer": [
{
"data": {"name": "rules"},
"mark": {"type": "rule", "color": "#333333", "strokeWidth": 1.3},
"encoding": {
"y": {"field": "r", "type": "quantitative", "axis": null, "scale": {"domain": [-0.5, 1.5, 2, 4.5, 7.5, 8, 9, 20.5], "range": [0, 44, 62, 121, 194, 207, 235, 505], "nice": false, "zero": false}},
"x": {"datum": 0, "type": "quantitative", "axis": null, "scale": {"domain": [0, 1, 2, 3, 4, 5, 6], "range": [8, 15, 85, 155, 219, 334, 390], "nice": false, "zero": false}},
"x2": {"datum": 6}
}
},
{
"data": {"name": "bottomrule"},
"mark": {"type": "rule", "color": "#555555", "strokeWidth": 2.6},
"encoding": {
"y": {"field": "r", "type": "quantitative"},
"x": {"datum": 0, "type": "quantitative"},
"x2": {"datum": 6}
}
},
{
"data": {"name": "table"},
"transform": [{"filter": "datum.c == 1"}],
"mark": {"type": "text", "align": "left", "baseline": "middle", "font": "Liberation Serif", "fontSize": 18.9, "fontWeight": "bold", "color": "black"},
"encoding": {
"y": {"field": "r", "type": "quantitative"},
"x": {"field": "c", "type": "quantitative"},
"text": {"field": "t"}
}
},
{
"data": {"name": "table"},
"transform": [{"filter": "datum.r == 0"}],
"mark": {"type": "text", "align": "center", "baseline": "middle", "font": "Liberation Serif", "fontSize": 18.9, "fontWeight": "bold", "color": "black"},
"encoding": {
"y": {"field": "r", "type": "quantitative"},
"x": {"field": "c", "type": "quantitative"},
"text": {"field": "t"}
}
},
{
"data": {"name": "table"},
"transform": [{"filter": "datum.c == 3"}],
"mark": {"type": "text", "align": "right", "baseline": "middle", "font": "Liberation Serif", "fontSize": 18.9, "color": "black"},
"encoding": {
"y": {"field": "r", "type": "quantitative"},
"x": {"field": "c", "type": "quantitative"},
"text": {"field": "t"}
}
},
{
"data": {"name": "table"},
"transform": [{"filter": "datum.r > 0 && (datum.c == 2 || datum.c == 4 || datum.c == 5)"}],
"mark": {"type": "text", "align": "center", "baseline": "middle", "font": "Liberation Serif", "fontSize": 18.9, "color": "black"},
"encoding": {
"y": {"field": "r", "type": "quantitative"},
"x": {"field": "c", "type": "quantitative"},
"text": {"field": "t"}
}
}
]
},
{
"width": 495,
"height": 468,
"view": {"stroke": "black", "strokeWidth": 1.5},
"data": {"name": "sessions"},
"encoding": {
"x": {"field": "age", "type": "quantitative", "scale": {"domain": [20, 103], "nice": false, "zero": false},
"axis": {"title": "Age (year)", "values": [20, 30, 40, 50, 60, 70, 80, 90, 100], "grid": false, "domain": false, "labelFlush": false, "tickColor": "black", "tickSize": 5, "tickWidth": 1, "labelFontSize": 16, "labelColor": "black", "labelPadding": 1, "titleFontSize": 16, "titleFontWeight": "normal", "titleColor": "black", "titlePadding": 2, "labelFont": "DejaVu Sans", "titleFont": "DejaVu Sans"}},
"y": {"field": "i", "type": "quantitative", "scale": {"domain": [-5, 1040], "nice": false, "zero": false},
"axis": {"title": "Subject (sorted by age at baseline)", "labels": false, "ticks": false, "grid": false, "domain": false, "titleFontSize": 16, "titleFontWeight": "normal", "titleColor": "black", "titlePadding": 10, "titleFont": "DejaVu Sans"}},
"color": {"field": "sex", "type": "nominal", "scale": {"domain": ["Male", "Female"], "range": ["#1f77b4", "#d62728"]},
"legend": {"title": null, "orient": "none", "legendX": 802, "legendY": 405, "direction": "vertical", "labelFontSize": 16, "labelFont": "DejaVu Sans", "labelColor": "black", "symbolType": "circle", "symbolSize": 12, "symbolOpacity": 0.7, "padding": 7, "symbolOffset": 10, "labelOffset": 22, "rowPadding": 9, "strokeColor": "#cccccc", "fillColor": "rgba(255,255,255,0.8)", "cornerRadius": 4}}
},
"layer": [
{
"mark": {"type": "line", "strokeWidth": 1.1, "opacity": 0.35},
"encoding": {"detail": {"field": "i", "type": "nominal"}}
},
{
"mark": {"type": "circle", "size": 14, "opacity": 0.75}
}
]
}
]
}
